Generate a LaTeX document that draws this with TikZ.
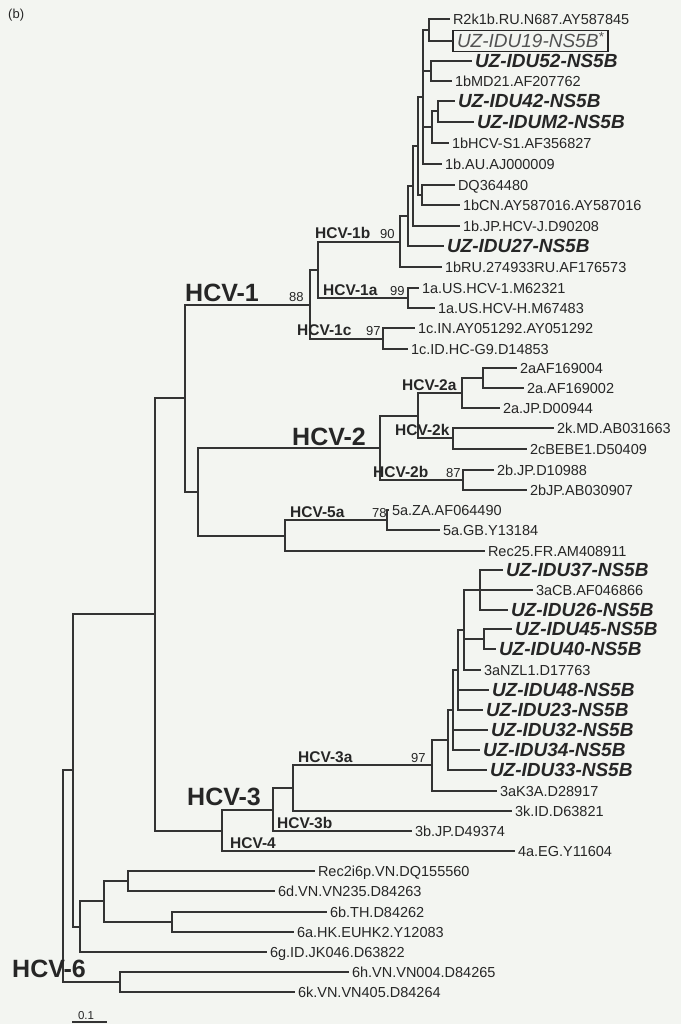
\documentclass[tikz,border=0pt]{standalone}
\usepackage{fontspec}
\setmainfont{Liberation Sans}
\definecolor{bgc}{HTML}{F3F5F1}
\definecolor{ink}{HTML}{262626}
\definecolor{lin}{HTML}{333333}
\tikzset{
  br/.style={draw=lin, line width=1.25pt},
  pt/.style={inner sep=0pt, minimum size=0pt, outer sep=0pt},
  leaf/.style={anchor=west, inner xsep=3pt, inner ysep=0pt, outer sep=0pt, text height=10.4pt, text depth=0pt, font=\fontsize{14.5}{16}\selectfont, text=ink},
  uz/.style={anchor=west, inner xsep=3pt, inner ysep=0pt, outer sep=0pt, text height=13.6pt, text depth=0pt, font=\fontsize{19}{21}\selectfont\bfseries\itshape, text=ink},
  boxed/.style={anchor=west, draw=ink, line width=1.4pt, inner xsep=4pt, inner ysep=3.5pt, outer sep=0pt, text height=13.6pt, text depth=0pt, font=\fontsize{19}{21}\selectfont\itshape, text=black!68},
  sub/.style={anchor=south west, inner sep=0pt, text depth=0pt, font=\fontsize{15.5}{17}\selectfont\bfseries, text=ink},
  big/.style={anchor=south west, inner sep=0pt, text depth=0pt, font=\fontsize{25}{27}\selectfont\bfseries, text=ink},
  bs/.style={anchor=south west, inner sep=0pt, text depth=0pt, font=\fontsize{13}{14}\selectfont, text=ink},
}
\begin{document}
\begin{tikzpicture}[x=1pt,y=-1pt]
\fill[bgc] (0,0) rectangle (681,1024);
\useasboundingbox (0,0) rectangle (681,1024);
% panel label
\node[anchor=west, inner sep=0pt, font=\fontsize{13}{14}\selectfont, text=ink] (panel) at (8,15) {(b)};
% leaves
\node[leaf] (l1) at (450,19) {R2k1b.RU.N687.AY587845};
\node[boxed] (l2) at (453,41) {UZ-IDU19-NS5B\textsuperscript{*}};
\node[uz] (l3) at (472,61) {UZ-IDU52-NS5B};
\node[leaf] (l4) at (452,81) {1bMD21.AF207762};
\node[uz] (l5) at (455,101) {UZ-IDU42-NS5B};
\node[uz] (l6) at (474,122) {UZ-IDUM2-NS5B};
\node[leaf] (l7) at (449,143) {1bHCV-S1.AF356827};
\node[leaf] (l8) at (442,164) {1b.AU.AJ000009};
\node[leaf] (l9) at (455,185) {DQ364480};
\node[leaf] (l10) at (460,205) {1bCN.AY587016.AY587016};
\node[leaf] (l11) at (460,226) {1b.JP.HCV-J.D90208};
\node[uz] (l12) at (444,246) {UZ-IDU27-NS5B};
\node[leaf] (l13) at (442,267) {1bRU.274933RU.AF176573};
\node[leaf] (l14) at (419,288) {1a.US.HCV-1.M62321};
\node[leaf] (l15) at (435,308) {1a.US.HCV-H.M67483};
\node[leaf] (l16) at (415,328) {1c.IN.AY051292.AY051292};
\node[leaf] (l17) at (408,349) {1c.ID.HC-G9.D14853};
\node[leaf] (l18) at (517,368) {2aAF169004};
\node[leaf] (l19) at (524,388) {2a.AF169002};
\node[leaf] (l20) at (500,408) {2a.JP.D00944};
\node[leaf] (l21) at (554,428) {2k.MD.AB031663};
\node[leaf] (l22) at (527,449) {2cBEBE1.D50409};
\node[leaf] (l23) at (494,470) {2b.JP.D10988};
\node[leaf] (l24) at (527,490) {2bJP.AB030907};
\node[leaf] (l25) at (389,510) {5a.ZA.AF064490};
\node[leaf] (l26) at (440,530) {5a.GB.Y13184};
\node[leaf] (l27) at (485,551) {Rec25.FR.AM408911};
\node[uz] (l28) at (503,570) {UZ-IDU37-NS5B};
\node[leaf] (l29) at (533,590) {3aCB.AF046866};
\node[uz] (l30) at (508,610) {UZ-IDU26-NS5B};
\node[uz] (l31) at (512,629) {UZ-IDU45-NS5B};
\node[uz] (l32) at (496,649) {UZ-IDU40-NS5B};
\node[leaf] (l33) at (481,670) {3aNZL1.D17763};
\node[uz] (l34) at (489,690) {UZ-IDU48-NS5B};
\node[uz] (l35) at (483,710) {UZ-IDU23-NS5B};
\node[uz] (l36) at (488,730) {UZ-IDU32-NS5B};
\node[uz] (l37) at (480,750) {UZ-IDU34-NS5B};
\node[uz] (l38) at (487,770) {UZ-IDU33-NS5B};
\node[leaf] (l39) at (497,791) {3aK3A.D28917};
\node[leaf] (l40) at (512,811) {3k.ID.D63821};
\node[leaf] (l41) at (412,831) {3b.JP.D49374};
\node[leaf] (l42) at (515,851) {4a.EG.Y11604};
\node[leaf] (l43) at (315,871) {Rec2i6p.VN.DQ155560};
\node[leaf] (l44) at (275,891) {6d.VN.VN235.D84263};
\node[leaf] (l45) at (327,912) {6b.TH.D84262};
\node[leaf] (l46) at (294,932) {6a.HK.EUHK2.Y12083};
\node[leaf] (l47) at (267,952) {6g.ID.JK046.D63822};
\node[leaf] (l48) at (349,972) {6h.VN.VN004.D84265};
\node[leaf] (l49) at (295,992) {6k.VN.VN405.D84264};
% internal nodes
\node[pt] (P1) at (429,30) {};
\node[pt] (P2) at (431,71) {};
\node[pt] (P3) at (438,111) {};
\node[pt] (P4) at (432,127) {};
\node[pt] (H) at (423,97) {};
\node[pt] (F) at (422,195) {};
\node[pt] (E) at (418,146) {};
\node[pt] (C) at (413,186) {};
\node[pt] (B) at (408,216) {};
\node[pt] (n1b) at (400,242) {};
\node[pt] (n1a) at (408,298) {};
\node[pt] (n1ab) at (318,270) {};
\node[pt] (n1c) at (383,339) {};
\node[pt] (nH1) at (310,305) {};
\node[pt] (n2aa) at (483,378) {};
\node[pt] (n2a) at (462,393) {};
\node[pt] (n2k) at (453,438) {};
\node[pt] (n2ak) at (418,416) {};
\node[pt] (n2b) at (463,480) {};
\node[pt] (n2) at (380,448) {};
\node[pt] (n5a) at (387,520) {};
\node[pt] (n5) at (285,536) {};
\node[pt] (n25) at (198,492) {};
\node[pt] (nA) at (185,398) {};
\node[pt] (N1) at (480,590) {};
\node[pt] (N2) at (484,639) {};
\node[pt] (N3) at (464,630) {};
\node[pt] (N4) at (458,670) {};
\node[pt] (N5) at (453,710) {};
\node[pt] (N6) at (448,740) {};
\node[pt] (n3a) at (432,765) {};
\node[pt] (n3ab) at (293,788) {};
\node[pt] (n3) at (273,810) {};
\node[pt] (n34) at (222,831) {};
\node[pt] (nTop) at (155,614) {};
\node[pt] (n6a) at (128,881) {};
\node[pt] (n6b) at (172,922) {};
\node[pt] (n6ab) at (104,901) {};
\node[pt] (n6c) at (80,927) {};
\node[pt] (n6hk) at (120,982) {};
\node[pt] (nM) at (73,770) {};
\node[pt] (root) at (63,876) {};
% branches to leaves
\foreach \p/\c in {P1/l1,P1/l2,P2/l3,P2/l4,P3/l5,P3/l6,P4/l7,H/l8,F/l9,F/l10,C/l11,B/l12,n1b/l13,
  n1a/l14,n1a/l15,n1c/l16,n1c/l17,n2aa/l18,n2aa/l19,n2a/l20,n2k/l21,n2k/l22,n2b/l23,n2b/l24,
  n5a/l25,n5a/l26,n5/l27,N1/l28,N1/l29,N1/l30,N2/l31,N2/l32,N3/l33,N4/l34,N4/l35,N5/l36,N5/l37,
  N6/l38,n3a/l39,n3ab/l40,n3/l41,n34/l42,n6a/l43,n6a/l44,n6b/l45,n6b/l46,n6c/l47,n6hk/l48,n6hk/l49}
  \draw[br] (\p) |- (\c.west);
% branches between internal nodes
\foreach \p/\c in {H/P1,H/P2,H/P4,P4/P3,E/H,E/F,C/E,B/C,n1b/B,n1ab/n1b,n1ab/n1a,nH1/n1ab,nH1/n1c,
  n2a/n2aa,n2ak/n2a,n2ak/n2k,n2/n2ak,n2/n2b,n5/n5a,n25/n2,n25/n5,nA/nH1,nA/n25,
  N3/N1,N3/N2,N4/N3,N5/N4,N6/N5,n3a/N6,n3ab/n3a,n3/n3ab,n34/n3,nTop/nA,nTop/n34,
  n6ab/n6a,n6ab/n6b,n6c/n6ab,nM/nTop,nM/n6c,root/nM,root/n6hk}
  \draw[br] (\p) |- (\c);
% clade labels
\node[big] (tH1) at (185,302) {HCV-1};
\node[big] (tH2) at (292,446) {HCV-2};
\node[big] (tH3) at (187,806) {HCV-3};
\node[big] (tH6) at (12,978) {HCV-6};
\node[sub] (t1b) at (315,239) {HCV-1b};
\node[sub] (t1a) at (323,295.5) {HCV-1a};
\node[sub] (t1c) at (297,336) {HCV-1c};
\node[sub] (t2a) at (402,391) {HCV-2a};
\node[sub] (t2k) at (395,436) {HCV-2k};
\node[sub] (t2b) at (373,478) {HCV-2b};
\node[sub] (t5a) at (290,517.5) {HCV-5a};
\node[sub] (t3a) at (298,763) {HCV-3a};
\node[sub] (t3b) at (277,828.5) {HCV-3b};
\node[sub] (t4) at (230,848.5) {HCV-4};
% bootstrap values
\node[bs] (b88) at (289,302) {88};
\node[bs] (b90) at (380,239) {90};
\node[bs] (b99) at (390,295.5) {99};
\node[bs] (b97a) at (366,336) {97};
\node[bs] (b87) at (446,478) {87};
\node[bs] (b78) at (372,517.5) {78};
\node[bs] (b97b) at (411,763) {97};
% scale bar
\node[pt] (sb1) at (72,1022) {};
\node[pt] (sb2) at (107,1022) {};
\draw[br] (sb1) -- (sb2);
\node[anchor=south, inner sep=0pt, text depth=0pt, font=\fontsize{11.5}{12}\selectfont, text=ink] (sbl) at (86,1020) {0.1};
\end{tikzpicture}
\end{document}
